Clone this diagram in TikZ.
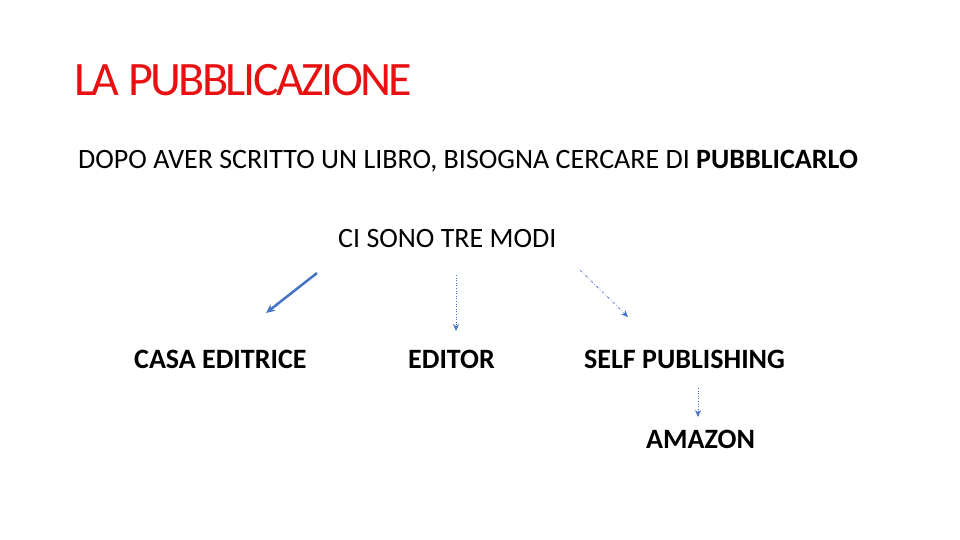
\documentclass[tikz,border=0pt]{standalone}
\usepackage{fontspec}
\setmainfont{Carlito}
\usetikzlibrary{arrows.meta}
\definecolor{titlered}{RGB}{232,16,16}
\definecolor{arrowblue}{RGB}{68,114,196}
\begin{document}
\begin{tikzpicture}[x=1pt,y=-1pt,
  txt/.style={inner sep=0pt,anchor=base west,font=\fontsize{28}{32}\selectfont},
  lbl/.style={inner sep=0pt,anchor=base west,font=\fontsize{28}{32}\selectfont\bfseries},
  arr/.style={draw=arrowblue,-{Stealth[length=7pt,width=6pt]}}]
\useasboundingbox[fill=white] (0,0) rectangle (960,540);
\node[inner sep=0pt,anchor=base west,text=titlered,font=\fontsize{48}{54}\selectfont\addfontfeature{LetterSpace=-5.2}] (title) at (74,96) {LA PUBBLICAZIONE};
\node[txt] (sub) at (78,168) {DOPO AVER SCRITTO UN LIBRO, BISOGNA CERCARE DI \textbf{PUBBLICARLO}};
\node[txt] (modi) at (338,247) {CI SONO TRE MODI};
\node[lbl] (casa) at (134,368) {CASA EDITRICE};
\node[lbl] (editor) at (408,368) {EDITOR};
\node[lbl] (self) at (584,368) {SELF PUBLISHING};
\node[lbl] (amazon) at (646,448) {AMAZON};
\coordinate (a1s) at (317,273); \coordinate (a1e) at (266,313);
\coordinate (a2s) at (456,275); \coordinate (a2e) at (456,331);
\coordinate (a3s) at (580,270); \coordinate (a3e) at (628,317);
\coordinate (a4s) at (698,388); \coordinate (a4e) at (698,417);
\draw[arr,line width=2.5pt,-{Stealth[length=9pt,width=8pt]}] (a1s) -- (a1e);
\draw[arr,line width=0.6pt,dotted] (a2s) -- (a2e);
\draw[arr,line width=0.6pt,dash dot] (a3s) -- (a3e);
\draw[arr,line width=0.6pt,dotted] (a4s) -- (a4e);
\end{tikzpicture}
\end{document}
